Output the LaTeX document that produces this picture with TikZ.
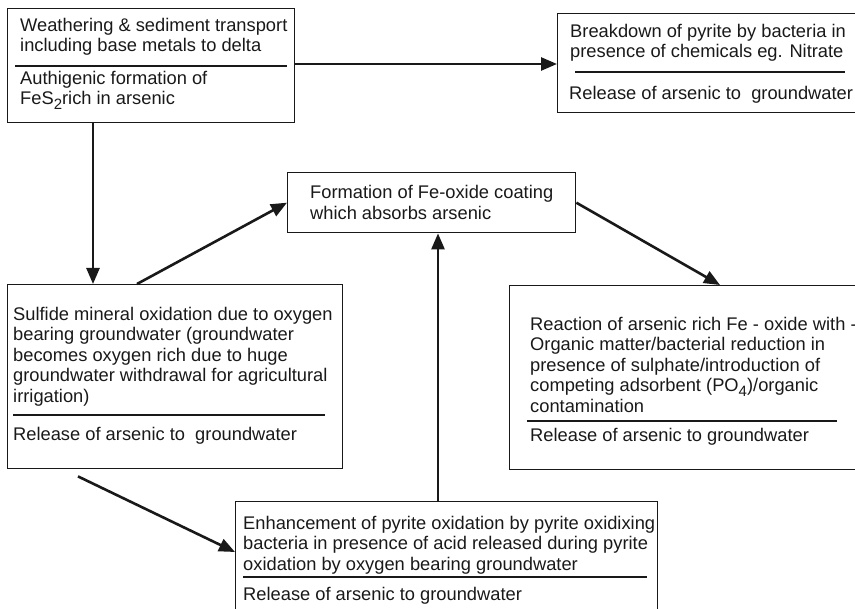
\documentclass[tikz,border=0pt]{standalone}
\usepackage{fontspec}
\setmainfont{Liberation Sans}
\usetikzlibrary{arrows.meta}
\newcommand{\lowidx}[1]{\raisebox{-0.45ex}{\fontsize{15}{15}\selectfont #1}}
\begin{document}
\begin{tikzpicture}[x=1pt, y=-1pt,
    every node/.style={font=\fontsize{18.3}{20.5}\selectfont, inner sep=0, text=black!90},
    box/.style={draw=black!90, line width=1.4pt, anchor=north west},
    t/.style={anchor=north west, align=left},
    sep/.style={draw=black!90, line width=1.4pt},
    arr/.style={draw=black!90, line width=2.6pt, -{Triangle[length=16pt, width=13pt]}}
  ]
  \clip (0,0) rectangle (855,609);
  \node[box, minimum width=287pt, minimum height=114pt] (weather) at (7,8) {};
  \node[box, minimum width=320pt, minimum height=99pt] (breakdown) at (557,13) {};
  \node[box, minimum width=288pt, minimum height=60pt, align=left] (coating) at (287,172)
    {Formation of Fe-oxide coating\\which absorbs arsenic};
  \node[box, minimum width=335pt, minimum height=184pt] (sulfide) at (7,284) {};
  \node[box, minimum width=360pt, minimum height=184pt] (reaction) at (509,285) {};
  \node[box, minimum width=422pt, minimum height=150pt] (pyrite) at (235,501) {};

  \node[t] (weather-a) at (20,18) {Weathering \& sediment transport\\including base metals to delta};
  \draw[sep] (15,66) -- (287,66);
  \node[t] (weather-b) at (20,71) {Authigenic formation of\\FeS\lowidx{2}rich in arsenic};

  \node[t] (breakdown-a) at (570,24) {Breakdown of pyrite by bacteria in\\presence of chemicals eg. Nitrate};
  \draw[sep] (575,72) -- (845,72);
  \node[t] (breakdown-b) at (569,86) {Release of arsenic to\ \ groundwater};

  \node[t] (sulfide-a) at (13,307) {Sulfide mineral oxidation due to oxygen\\bearing groundwater (groundwater\\becomes oxygen rich due to huge\\groundwater withdrawal for agricultural\\irrigation)};
  \draw[sep] (13,415) -- (325,415);
  \node[t] (sulfide-b) at (13,427) {Release of arsenic to\ \ groundwater};

  \node[t] (reaction-a) at (530,317) {Reaction of arsenic rich Fe - oxide with -\\Organic matter/bacterial reduction in\\presence of sulphate/introduction of\\competing adsorbent (PO\lowidx{4})/organic\\contamination};
  \draw[sep] (527,421) -- (837,421);
  \node[t] (reaction-b) at (530,428) {Release of arsenic to groundwater};

  \node[t] (pyrite-a) at (243,516) {Enhancement of pyrite oxidation by pyrite oxidixing\\bacteria in presence of acid released during pyrite\\oxidation by oxygen bearing groundwater};
  \draw[sep] (243,577) -- (647,577);
  \node[t] (pyrite-b) at (243,587) {Release of arsenic to groundwater};

  \draw[arr] ([yshift=-56pt]weather.north east) coordinate (ab) -- (ab -| breakdown.west);
  \draw[arr] ([xshift=86pt]weather.south west) -- ([xshift=86pt]sulfide.north west);
  \draw[arr] ([xshift=130pt]sulfide.north west) -- (coating.west);
  \draw[arr] (coating.east) -- ([xshift=211pt]reaction.north west);
  \draw[arr] ([xshift=203pt]pyrite.north west) coordinate (fc) -- (fc |- coating.south);
  \draw[arr] ([xshift=71pt,yshift=-7pt]sulfide.south west) -- ([yshift=-51pt]pyrite.north west);
\end{tikzpicture}
\end{document}
